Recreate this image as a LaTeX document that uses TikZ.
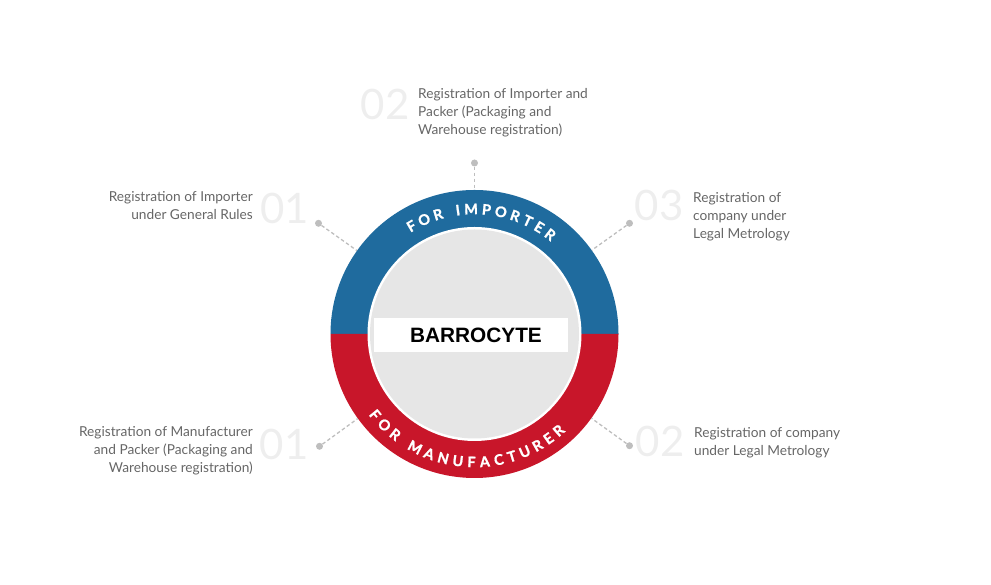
\documentclass[tikz,border=0pt]{standalone}
\usepackage{fontspec}
\setmainfont{Lato}
\newfontfamily\arialfont{Liberation Sans}
\newfontfamily\ringfont[BoldFeatures={FakeBold=1.2}]{Lato}
\usetikzlibrary{calc}
\definecolor{ringblue}{RGB}{31,107,158}
\definecolor{ringred}{RGB}{200,22,42}
\definecolor{innergray}{RGB}{230,230,230}
\definecolor{labelgray}{RGB}{102,102,102}
\definecolor{dotgray}{RGB}{190,190,190}
\definecolor{numgray}{RGB}{238,238,238}
\begin{document}
\begin{tikzpicture}[x=1pt,y=1pt,
  lbl/.style={font=\fontsize{13.7}{18}\selectfont, text=labelgray, inner sep=0pt},
  lblL/.style={lbl, align=left, anchor=north west},
  lblR/.style={lbl, align=right, anchor=north east},
  num/.style={font=\fontsize{42}{42}\selectfont, text=numgray, inner sep=0pt, anchor=base},
  dotnode/.style={circle, fill=dotgray, minimum size=7pt, inner sep=0pt},
  conn/.style={draw=dotgray, line width=1.3pt, dash pattern=on 3.5pt off 2.5pt},
  ringletter/.style={font=\ringfont\bfseries\fontsize{14.5}{14.5}\selectfont, text=white, inner sep=0pt}
]
\useasboundingbox (0,0) rectangle (991,585);
\coordinate (c) at (474.5,251);
% ring halves
\fill[ringblue] (c) ++(0:144) arc[start angle=0,end angle=180,radius=144] -- cycle;
\fill[ringred] (c) ++(180:144) arc[start angle=180,end angle=360,radius=144] -- cycle;
\node[circle, minimum size=288pt, inner sep=0pt] (ring) at (c) {};
\fill[white] (c) circle[radius=107];
\node[circle, fill=innergray, minimum size=209pt, inner sep=0pt] (core) at (c) {};
% ring texts
\foreach \ch/\a [count=\i] in {F/120.3, O/113.76, R/106.96, I/97.66, M/91.57, P/84.48, O/77.78, R/70.98, T/64.76, E/58.80, R/52.68}
  \node[ringletter, rotate=\a-90] (top\i) at ($(c)+(\a:125)$) {\ch};
\foreach \ch/\a [count=\i] in {F/219.10, O/225.30, R/231.74, M/242.35, A/249.31, N/255.88, U/262.57, F/268.65, A/274.61, C/280.94, T/286.97, U/293.14, R/299.47, E/305.28, R/311.09}
  \node[ringletter, rotate=\a+90] (bot\i) at ($(c)+(\a:128)$) {\ch};
% title
\node[fill=white, minimum width=194pt, minimum height=34pt, inner sep=0pt,
  font=\arialfont\bfseries\fontsize{20.8}{20.8}\selectfont, text=black] (title) at (471,250) {\hspace*{10pt}BARROCYTE};
% dots and connectors
\node[dotnode] (d1) at (318.5,361.7) {};
\node[dotnode] (d2) at (474.5,422) {};
\node[dotnode] (d3) at (629.5,361.7) {};
\node[dotnode] (d4) at (319.5,138.7) {};
\node[dotnode] (d5) at (629.5,139.3) {};
\draw[conn] (d1) -- (ring);
\draw[conn] (d2) -- (ring);
\draw[conn] (d3) -- (ring);
\draw[conn] (d4) -- (ring);
\draw[conn] (d5) -- (ring);
% numbers
\node[num] (n1) at (284.5,361.7) {01};
\node[num] (n2) at (385,465) {02};
\node[num] (n3) at (659,364) {03};
\node[num] (n4) at (284,125) {01};
\node[num] (n5) at (660,128) {02};
% labels
\node[lblR] (l1) at (253,395.5) {\rule{0pt}{12pt}Registration of Importer\\under General Rules};
\node[lblL] (l2) at (418,498.5) {\rule{0pt}{12pt}Registration of Importer and\\Packer (Packaging and\\Warehouse registration)};
\node[lblL] (l3) at (693,395) {\rule{0pt}{12pt}Registration of\\company under\\Legal Metrology};
\node[lblR] (l4) at (253,161) {\rule{0pt}{12pt}Registration of Manufacturer\\and Packer (Packaging and\\Warehouse registration)};
\node[lblL] (l5) at (694,160) {\rule{0pt}{12pt}Registration of company\\under Legal Metrology};
\end{tikzpicture}
\end{document}
